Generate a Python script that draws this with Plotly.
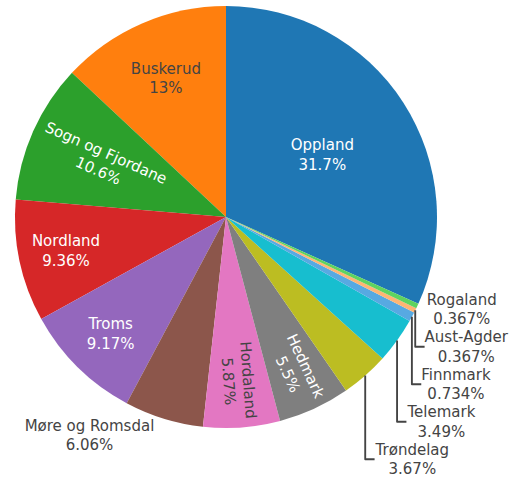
import plotly.graph_objects as go

# Number of entries per county
counties = [
    "Oppland", "Buskerud", "Sogn og Fjordane", "Nordland", "Troms",
    "Møre og Romsdal", "Hordaland", "Hedmark", "Trøndelag", "Telemark",
    "Finnmark", "Aust-Agder", "Rogaland",
]
counts = [173, 71, 58, 51, 50, 33, 32, 30, 20, 19, 4, 2, 2]

# Classic D3 category10 palette
palette = [
    "#1f77b4", "#ff7f0e", "#2ca02c", "#d62728", "#9467bd",
    "#8c564b", "#e377c2", "#7f7f7f", "#bcbd22", "#17becf",
]

fig = go.Figure(
    go.Pie(
        labels=counties,
        values=counts,
        textinfo="label+percent",
        showlegend=False,
    )
)

fig.update_layout(
    template="none",
    colorway=palette,
    width=509,
    height=490,
    margin=dict(l=15, r=72, t=6, b=62),
    font=dict(family="DejaVu Sans, Verdana, sans-serif", size=15, color="#444"),
    paper_bgcolor="white",
)

fig.write_html("out.html")
